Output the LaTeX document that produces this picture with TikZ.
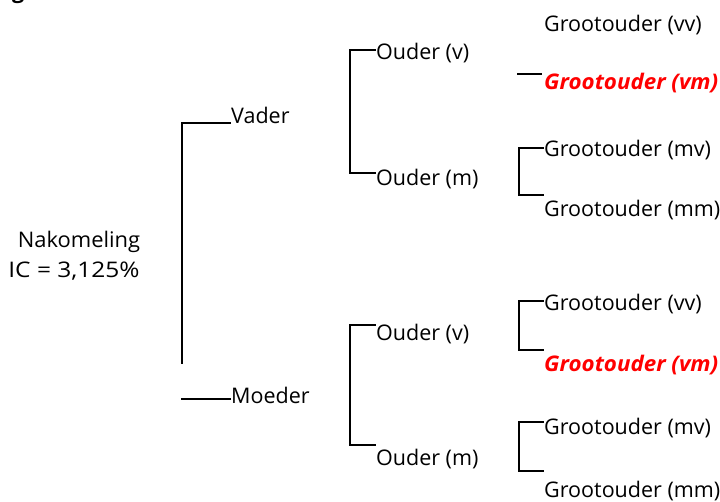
\documentclass[tikz,border=0pt]{standalone}
\usepackage{fontspec}
\setmainfont{Open Sans}
\definecolor{hired}{RGB}{255,0,0}
\begin{document}
\begin{tikzpicture}[x=1pt,y=-1pt,
  lbl/.style={anchor=base west,inner sep=0pt,font=\fontsize{21.5}{26}\selectfont},
  hilite/.style={lbl,text=hired,font=\fontsize{21.5}{26}\selectfont\bfseries\itshape},
  link/.style={line width=1.5pt,line cap=rect}]
\useasboundingbox (0,0) rectangle (720,502);
% cut-off fragment at top left
\node[anchor=base west,inner sep=0pt,font=\fontsize{21.5}{26}\selectfont\bfseries] (frag) at (12,-1) {g};
% offspring
\node[anchor=base,inner sep=0pt,font=\fontsize{21.5}{26}\selectfont] (nak) at (79,248) {\scalebox{1.02}[1]{Nakomeling}};
\node[anchor=base,inner sep=0pt,font=\fontsize{21.5}{26}\selectfont] (ic) at (74,278) {\scalebox{1.14}[1]{IC = 3,125\%}};
% parents
\node[lbl] (vader) at (231,124) {Vader};
\node[lbl] (moeder) at (231,403) {Moeder};
% grandparents level
\node[lbl] (ov1) at (376,60) {Ouder (v)};
\node[lbl] (om1) at (376,186) {Ouder (m)};
\node[lbl] (ov2) at (376,341) {Ouder (v)};
\node[lbl] (om2) at (376,465) {Ouder (m)};
% great grandparents
\node[lbl] (g1) at (544,32) {Grootouder (vv)};
\node[hilite] (g2) at (544,90) {\scalebox{1.04}[1]{Grootouder (vm)}};
\node[lbl] (g3) at (544,157) {Grootouder (mv)};
\node[lbl] (g4) at (544,217) {Grootouder (mm)};
\node[lbl] (g5) at (544,311) {Grootouder (vv)};
\node[hilite] (g6) at (544,371) {\scalebox{1.04}[1]{Grootouder (vm)}};
\node[lbl] (g7) at (544,434) {Grootouder (mv)};
\node[lbl] (g8) at (544,497) {Grootouder (mm)};
% connector coordinates
\coordinate (a1) at (182,123); \coordinate (a2) at (230,123); \coordinate (a3) at (182,363);
\coordinate (b1) at (182,399); \coordinate (b2) at (230,399);
\coordinate (c1) at (375,50); \coordinate (c2) at (350,50); \coordinate (c3) at (350,173); \coordinate (c4) at (375,173);
\coordinate (d1) at (375,325); \coordinate (d2) at (350,325); \coordinate (d3) at (350,445); \coordinate (d4) at (375,445);
\coordinate (e1) at (518,74); \coordinate (e2) at (541,74);
\coordinate (f1) at (543,148); \coordinate (f2) at (519,148); \coordinate (f3) at (519,195); \coordinate (f4) at (543,195);
\coordinate (h1) at (543,301); \coordinate (h2) at (519,301); \coordinate (h3) at (519,350); \coordinate (h4) at (543,350);
\coordinate (k1) at (543,422); \coordinate (k2) at (519,422); \coordinate (k3) at (519,471); \coordinate (k4) at (543,471);
\draw[link] (a3) -- (a1) -- (a2);
\draw[link] (b1) -- (b2);
\draw[link] (c1) -- (c2) -- (c3) -- (c4);
\draw[link] (d1) -- (d2) -- (d3) -- (d4);
\draw[link] (e1) -- (e2);
\draw[link] (f1) -- (f2) -- (f3) -- (f4);
\draw[link] (h1) -- (h2) -- (h3) -- (h4);
\draw[link] (k1) -- (k2) -- (k3) -- (k4);
\end{tikzpicture}
\end{document}
